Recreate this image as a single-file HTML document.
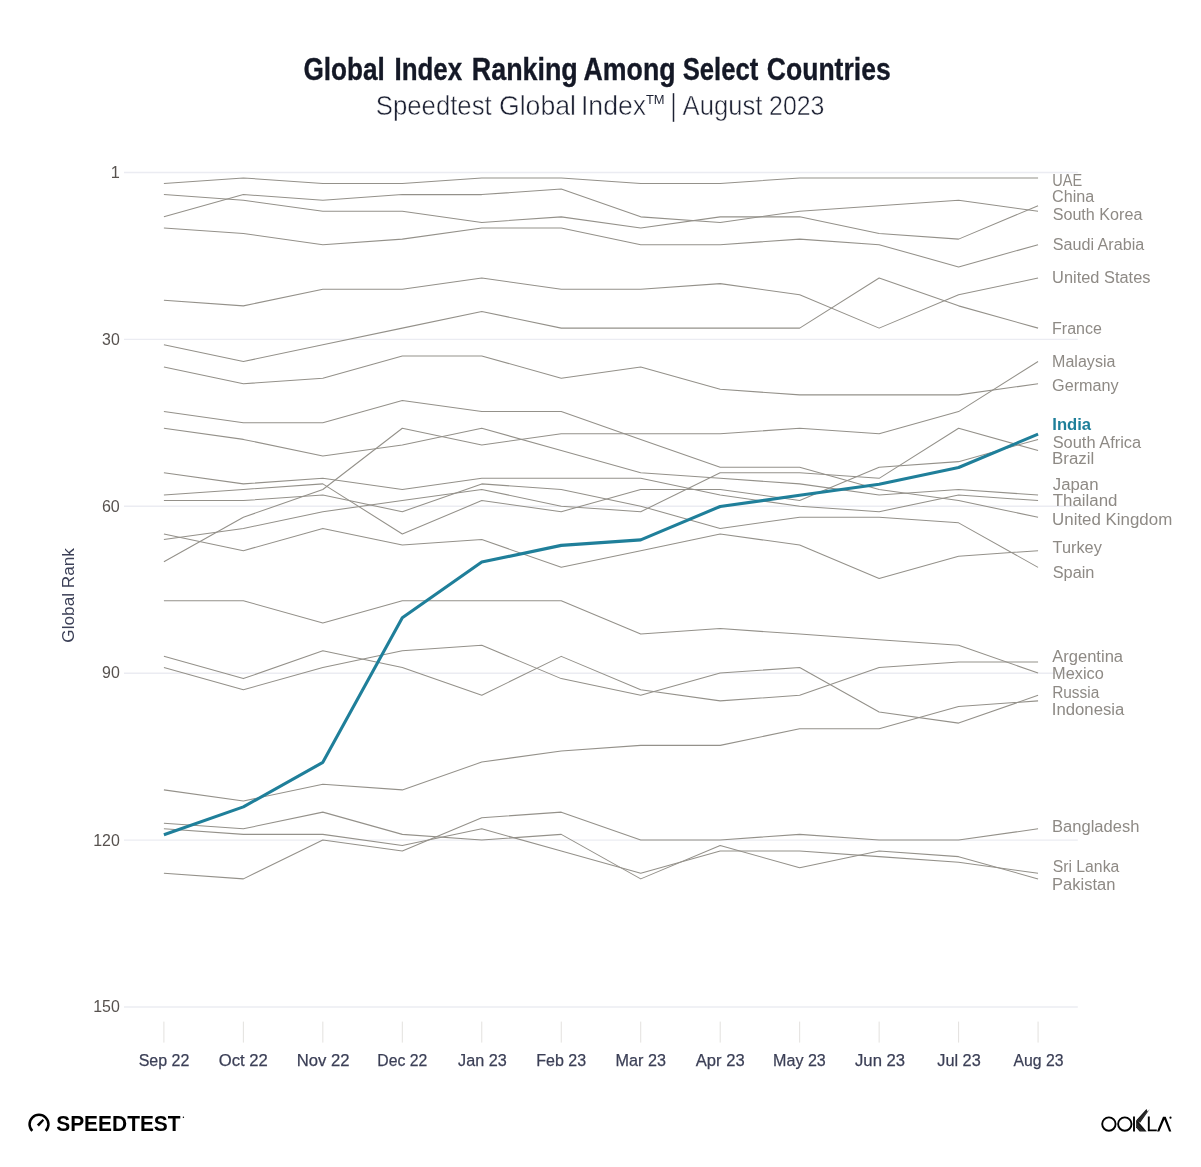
<!DOCTYPE html>
<html lang="en"><head><meta charset="utf-8"><title>Global Index Ranking Among Select Countries</title>
<style>html,body{margin:0;padding:0;background:#fff;}body{width:1201px;height:1167px;overflow:hidden;}svg{display:block;will-change:transform;}text{font-family:"Liberation Sans",sans-serif;}</style></head><body>
<svg width="1201" height="1167" viewBox="0 0 1201 1167">
<rect width="1201" height="1167" fill="#ffffff"/>
<text x="303.43" y="79.5" font-size="32.2" font-weight="bold" fill="#141826" textLength="81.32" lengthAdjust="spacingAndGlyphs" stroke="#141826" stroke-width="0.35">Global</text>
<text x="394.47" y="79.5" font-size="32.2" font-weight="bold" fill="#141826" textLength="67.62" lengthAdjust="spacingAndGlyphs" stroke="#141826" stroke-width="0.35">Index</text>
<text x="471.8" y="79.5" font-size="32.2" font-weight="bold" fill="#141826" textLength="105.99" lengthAdjust="spacingAndGlyphs" stroke="#141826" stroke-width="0.35">Ranking</text>
<text x="583.53" y="79.5" font-size="32.2" font-weight="bold" fill="#141826" textLength="92.05" lengthAdjust="spacingAndGlyphs" stroke="#141826" stroke-width="0.35">Among</text>
<text x="682.66" y="79.5" font-size="32.2" font-weight="bold" fill="#141826" textLength="75.65" lengthAdjust="spacingAndGlyphs" stroke="#141826" stroke-width="0.35">Select</text>
<text x="766.81" y="79.5" font-size="32.2" font-weight="bold" fill="#141826" textLength="123.88" lengthAdjust="spacingAndGlyphs" stroke="#141826" stroke-width="0.35">Countries</text>
<text x="375.83" y="115.0" font-size="28.5" font-weight="normal" fill="#1d2133" textLength="115.86" lengthAdjust="spacingAndGlyphs" stroke="#ffffff" stroke-width="0.5">Speedtest</text>
<text x="498.96" y="115.0" font-size="28.5" font-weight="normal" fill="#1d2133" textLength="77.02" lengthAdjust="spacingAndGlyphs" stroke="#ffffff" stroke-width="0.5">Global</text>
<text x="580.94" y="115.0" font-size="28.5" font-weight="normal" fill="#1d2133" textLength="65.14" lengthAdjust="spacingAndGlyphs" stroke="#ffffff" stroke-width="0.5">Index</text>
<text x="682.55" y="115.0" font-size="28.5" font-weight="normal" fill="#1d2133" textLength="79.84" lengthAdjust="spacingAndGlyphs" stroke="#ffffff" stroke-width="0.5">August</text>
<text x="769.05" y="115.0" font-size="28.5" font-weight="normal" fill="#1d2133" textLength="55.34" lengthAdjust="spacingAndGlyphs" stroke="#ffffff" stroke-width="0.5">2023</text>
<text x="645.91" y="104.0" font-size="12.0" font-weight="normal" fill="#1d2133" textLength="18.65" lengthAdjust="spacingAndGlyphs">TM</text>
<line x1="673.5" x2="673.5" y1="93.2" y2="121.8" stroke="#1d2133" stroke-width="1.5"/>
<g stroke="#ebecf2" stroke-width="1.4">
<line x1="124" x2="1077.8" y1="172.50" y2="172.50"/>
<line x1="124" x2="1077.8" y1="339.40" y2="339.40"/>
<line x1="124" x2="1077.8" y1="506.30" y2="506.30"/>
<line x1="124" x2="1077.8" y1="673.20" y2="673.20"/>
<line x1="124" x2="1077.8" y1="840.10" y2="840.10"/>
<line x1="124" x2="1077.8" y1="1007.00" y2="1007.00"/>
</g>
<text x="110.85" y="177.9" font-size="16.55" font-weight="normal" fill="#57524f" textLength="9.09" lengthAdjust="spacingAndGlyphs">1</text>
<text x="102.09" y="344.8" font-size="16.55" font-weight="normal" fill="#57524f" textLength="17.68" lengthAdjust="spacingAndGlyphs">30</text>
<text x="101.88" y="511.7" font-size="16.55" font-weight="normal" fill="#57524f" textLength="17.9" lengthAdjust="spacingAndGlyphs">60</text>
<text x="102.05" y="678.4" font-size="16.55" font-weight="normal" fill="#57524f" textLength="17.72" lengthAdjust="spacingAndGlyphs">90</text>
<text x="93.19" y="845.8" font-size="16.55" font-weight="normal" fill="#57524f" textLength="26.59" lengthAdjust="spacingAndGlyphs">120</text>
<text x="93.19" y="1011.8" font-size="16.55" font-weight="normal" fill="#57524f" textLength="26.59" lengthAdjust="spacingAndGlyphs">150</text>
<g stroke="#e3e1de" stroke-width="1">
<line x1="163.90" x2="163.90" y1="1021.6" y2="1042.6"/>
<line x1="243.37" x2="243.37" y1="1021.6" y2="1042.6"/>
<line x1="322.84" x2="322.84" y1="1021.6" y2="1042.6"/>
<line x1="402.31" x2="402.31" y1="1021.6" y2="1042.6"/>
<line x1="481.78" x2="481.78" y1="1021.6" y2="1042.6"/>
<line x1="561.25" x2="561.25" y1="1021.6" y2="1042.6"/>
<line x1="640.72" x2="640.72" y1="1021.6" y2="1042.6"/>
<line x1="720.19" x2="720.19" y1="1021.6" y2="1042.6"/>
<line x1="799.66" x2="799.66" y1="1021.6" y2="1042.6"/>
<line x1="879.13" x2="879.13" y1="1021.6" y2="1042.6"/>
<line x1="958.60" x2="958.60" y1="1021.6" y2="1042.6"/>
<line x1="1038.07" x2="1038.07" y1="1021.6" y2="1042.6"/>
</g>
<text x="138.67" y="1066" font-size="16.8" font-weight="normal" fill="#3b3f56" textLength="50.73" lengthAdjust="spacingAndGlyphs" stroke="#3b3f56" stroke-width="0.25">Sep 22</text>
<text x="218.81" y="1066" font-size="16.8" font-weight="normal" fill="#3b3f56" textLength="49.03" lengthAdjust="spacingAndGlyphs" stroke="#3b3f56" stroke-width="0.25">Oct 22</text>
<text x="296.63" y="1066" font-size="16.8" font-weight="normal" fill="#3b3f56" textLength="52.81" lengthAdjust="spacingAndGlyphs" stroke="#3b3f56" stroke-width="0.25">Nov 22</text>
<text x="377.31" y="1066" font-size="16.8" font-weight="normal" fill="#3b3f56" textLength="49.99" lengthAdjust="spacingAndGlyphs" stroke="#3b3f56" stroke-width="0.25">Dec 22</text>
<text x="458.05" y="1066" font-size="16.8" font-weight="normal" fill="#3b3f56" textLength="48.67" lengthAdjust="spacingAndGlyphs" stroke="#3b3f56" stroke-width="0.25">Jan 23</text>
<text x="536.18" y="1066" font-size="16.8" font-weight="normal" fill="#3b3f56" textLength="49.92" lengthAdjust="spacingAndGlyphs" stroke="#3b3f56" stroke-width="0.25">Feb 23</text>
<text x="615.57" y="1066" font-size="16.8" font-weight="normal" fill="#3b3f56" textLength="50.34" lengthAdjust="spacingAndGlyphs" stroke="#3b3f56" stroke-width="0.25">Mar 23</text>
<text x="695.77" y="1066" font-size="16.8" font-weight="normal" fill="#3b3f56" textLength="48.86" lengthAdjust="spacingAndGlyphs" stroke="#3b3f56" stroke-width="0.25">Apr 23</text>
<text x="773.08" y="1066" font-size="16.8" font-weight="normal" fill="#3b3f56" textLength="52.73" lengthAdjust="spacingAndGlyphs" stroke="#3b3f56" stroke-width="0.25">May 23</text>
<text x="855.04" y="1066" font-size="16.8" font-weight="normal" fill="#3b3f56" textLength="50.09" lengthAdjust="spacingAndGlyphs" stroke="#3b3f56" stroke-width="0.25">Jun 23</text>
<text x="937.25" y="1066" font-size="16.8" font-weight="normal" fill="#3b3f56" textLength="43.47" lengthAdjust="spacingAndGlyphs" stroke="#3b3f56" stroke-width="0.25">Jul 23</text>
<text x="1013.47" y="1066" font-size="16.8" font-weight="normal" fill="#3b3f56" textLength="50.02" lengthAdjust="spacingAndGlyphs" stroke="#3b3f56" stroke-width="0.25">Aug 23</text>
<text transform="translate(74.3,641.8) rotate(-90)" x="-0.86" y="0" font-size="17.2" fill="#3b3f56" textLength="94.64" lengthAdjust="spacingAndGlyphs">Global Rank</text>
<g fill="none" stroke="#94918a" stroke-width="1.05" stroke-linejoin="round">
<polyline points="163.90,183.48 243.37,177.91 322.84,183.48 402.31,183.48 481.78,177.91 561.25,177.91 640.72,183.48 720.19,183.48 799.66,177.91 879.13,177.91 958.60,177.91 1038.07,177.91"/>
<polyline points="163.90,216.86 243.37,194.60 322.84,200.17 402.31,194.60 481.78,194.60 561.25,189.04 640.72,216.86 720.19,222.42 799.66,211.29 879.13,205.73 958.60,200.17 1038.07,211.29"/>
<polyline points="163.90,194.60 243.37,200.17 322.84,211.29 402.31,211.29 481.78,222.42 561.25,216.86 640.72,227.98 720.19,216.86 799.66,216.86 879.13,233.55 958.60,239.11 1038.07,205.73"/>
<polyline points="163.90,227.98 243.37,233.55 322.84,244.67 402.31,239.11 481.78,227.98 561.25,227.98 640.72,244.67 720.19,244.67 799.66,239.11 879.13,244.67 958.60,266.93 1038.07,244.67"/>
<polyline points="163.90,300.31 243.37,305.87 322.84,289.18 402.31,289.18 481.78,278.05 561.25,289.18 640.72,289.18 720.19,283.62 799.66,294.74 879.13,328.12 958.60,294.74 1038.07,278.05"/>
<polyline points="163.90,344.81 243.37,361.50 322.84,344.81 402.31,328.12 481.78,311.43 561.25,328.12 640.72,328.12 720.19,328.12 799.66,328.12 879.13,278.05 958.60,305.87 1038.07,328.12"/>
<polyline points="163.90,561.78 243.37,517.27 322.84,489.46 402.31,428.26 481.78,444.95 561.25,433.83 640.72,433.83 720.19,433.83 799.66,428.26 879.13,433.83 958.60,411.57 1038.07,361.50"/>
<polyline points="163.90,367.07 243.37,383.76 322.84,378.19 402.31,355.94 481.78,355.94 561.25,378.19 640.72,367.07 720.19,389.32 799.66,394.88 879.13,394.88 958.60,394.88 1038.07,383.76"/>
<polyline points="163.90,495.02 243.37,489.46 322.84,483.89 402.31,533.96 481.78,500.58 561.25,511.71 640.72,489.46 720.19,489.46 799.66,500.58 879.13,467.20 958.60,461.64 1038.07,439.39"/>
<polyline points="163.90,539.53 243.37,528.40 322.84,511.71 402.31,500.58 481.78,489.46 561.25,506.15 640.72,511.71 720.19,472.77 799.66,472.77 879.13,478.33 958.60,428.26 1038.07,450.51"/>
<polyline points="163.90,428.26 243.37,439.39 322.84,456.08 402.31,444.95 481.78,428.26 561.25,450.51 640.72,472.77 720.19,478.33 799.66,483.89 879.13,495.02 958.60,489.46 1038.07,495.02"/>
<polyline points="163.90,472.77 243.37,483.89 322.84,478.33 402.31,489.46 481.78,478.33 561.25,478.33 640.72,478.33 720.19,495.02 799.66,506.15 879.13,511.71 958.60,495.02 1038.07,500.58"/>
<polyline points="163.90,411.57 243.37,422.70 322.84,422.70 402.31,400.45 481.78,411.57 561.25,411.57 640.72,439.39 720.19,467.20 799.66,467.20 879.13,489.46 958.60,500.58 1038.07,517.27"/>
<polyline points="163.90,533.96 243.37,550.65 322.84,528.40 402.31,545.09 481.78,539.53 561.25,567.34 640.72,550.65 720.19,533.96 799.66,545.09 879.13,578.47 958.60,556.22 1038.07,550.65"/>
<polyline points="163.90,500.58 243.37,500.58 322.84,495.02 402.31,511.71 481.78,483.89 561.25,489.46 640.72,506.15 720.19,528.40 799.66,517.27 879.13,517.27 958.60,522.84 1038.07,567.34"/>
<polyline points="163.90,656.36 243.37,678.61 322.84,650.79 402.31,667.48 481.78,695.30 561.25,656.36 640.72,689.74 720.19,700.86 799.66,695.30 879.13,667.48 958.60,661.92 1038.07,661.92"/>
<polyline points="163.90,600.72 243.37,600.72 322.84,622.98 402.31,600.72 481.78,600.72 561.25,600.72 640.72,634.10 720.19,628.54 799.66,634.10 879.13,639.67 958.60,645.23 1038.07,673.05"/>
<polyline points="163.90,667.48 243.37,689.74 322.84,667.48 402.31,650.79 481.78,645.23 561.25,678.61 640.72,695.30 720.19,673.05 799.66,667.48 879.13,711.99 958.60,723.12 1038.07,695.30"/>
<polyline points="163.90,789.88 243.37,801.00 322.84,784.31 402.31,789.88 481.78,762.06 561.25,750.93 640.72,745.37 720.19,745.37 799.66,728.68 879.13,728.68 958.60,706.43 1038.07,700.86"/>
<polyline points="163.90,873.33 243.37,878.89 322.84,839.95 402.31,851.07 481.78,817.69 561.25,812.13 640.72,839.95 720.19,839.95 799.66,834.38 879.13,839.95 958.60,839.95 1038.07,828.82"/>
<polyline points="163.90,828.82 243.37,834.38 322.84,834.38 402.31,845.51 481.78,828.82 561.25,851.07 640.72,873.33 720.19,851.07 799.66,851.07 879.13,856.64 958.60,862.20 1038.07,873.33"/>
<polyline points="163.90,823.26 243.37,828.82 322.84,812.13 402.31,834.38 481.78,839.95 561.25,834.38 640.72,878.89 720.19,845.51 799.66,867.76 879.13,851.07 958.60,856.64 1038.07,878.89"/>
</g>
<polyline fill="none" stroke="#1f7f9a" stroke-width="3.1" stroke-linejoin="round" points="163.90,834.68 243.37,806.87 322.84,762.36 402.31,617.71 481.78,562.08 561.25,545.39 640.72,539.83 720.19,506.45 799.66,495.32 879.13,484.19 958.60,467.50 1038.07,434.13"/>
<text x="1052.28" y="185.6" font-size="15.8" font-weight="normal" fill="#8e8a85" textLength="29.84" lengthAdjust="spacingAndGlyphs">UAE</text>
<text x="1052.08" y="202.4" font-size="15.8" font-weight="normal" fill="#8e8a85" textLength="42.22" lengthAdjust="spacingAndGlyphs">China</text>
<text x="1052.67" y="219.6" font-size="15.8" font-weight="normal" fill="#8e8a85" textLength="89.73" lengthAdjust="spacingAndGlyphs">South Korea</text>
<text x="1052.67" y="249.7" font-size="15.8" font-weight="normal" fill="#8e8a85" textLength="91.63" lengthAdjust="spacingAndGlyphs">Saudi Arabia</text>
<text x="1052.14" y="283.3" font-size="15.8" font-weight="normal" fill="#8e8a85" textLength="98.36" lengthAdjust="spacingAndGlyphs">United States</text>
<text x="1052.09" y="334.0" font-size="15.8" font-weight="normal" fill="#8e8a85" textLength="49.82" lengthAdjust="spacingAndGlyphs">France</text>
<text x="1052.08" y="366.5" font-size="15.8" font-weight="normal" fill="#8e8a85" textLength="63.32" lengthAdjust="spacingAndGlyphs">Malaysia</text>
<text x="1052.08" y="391.4" font-size="15.8" font-weight="normal" fill="#8e8a85" textLength="66.65" lengthAdjust="spacingAndGlyphs">Germany</text>
<text x="1052.66" y="447.5" font-size="15.8" font-weight="normal" fill="#8e8a85" textLength="88.54" lengthAdjust="spacingAndGlyphs">South Africa</text>
<text x="1052.02" y="463.7" font-size="15.8" font-weight="normal" fill="#8e8a85" textLength="42.21" lengthAdjust="spacingAndGlyphs">Brazil</text>
<text x="1052.84" y="489.6" font-size="15.8" font-weight="normal" fill="#8e8a85" textLength="45.65" lengthAdjust="spacingAndGlyphs">Japan</text>
<text x="1052.72" y="505.5" font-size="15.8" font-weight="normal" fill="#8e8a85" textLength="64.77" lengthAdjust="spacingAndGlyphs">Thailand</text>
<text x="1052.1" y="524.5" font-size="15.8" font-weight="normal" fill="#8e8a85" textLength="120.12" lengthAdjust="spacingAndGlyphs">United Kingdom</text>
<text x="1052.54" y="552.9" font-size="15.8" font-weight="normal" fill="#8e8a85" textLength="49.29" lengthAdjust="spacingAndGlyphs">Turkey</text>
<text x="1052.66" y="577.8" font-size="15.8" font-weight="normal" fill="#8e8a85" textLength="41.8" lengthAdjust="spacingAndGlyphs">Spain</text>
<text x="1052.17" y="661.9" font-size="15.8" font-weight="normal" fill="#8e8a85" textLength="70.93" lengthAdjust="spacingAndGlyphs">Argentina</text>
<text x="1052.06" y="678.7" font-size="15.8" font-weight="normal" fill="#8e8a85" textLength="51.73" lengthAdjust="spacingAndGlyphs">Mexico</text>
<text x="1052.13" y="697.8" font-size="15.8" font-weight="normal" fill="#8e8a85" textLength="47.17" lengthAdjust="spacingAndGlyphs">Russia</text>
<text x="1051.86" y="714.9" font-size="15.8" font-weight="normal" fill="#8e8a85" textLength="72.44" lengthAdjust="spacingAndGlyphs">Indonesia</text>
<text x="1052.04" y="831.8" font-size="15.8" font-weight="normal" fill="#8e8a85" textLength="87.43" lengthAdjust="spacingAndGlyphs">Bangladesh</text>
<text x="1052.68" y="872.4" font-size="15.8" font-weight="normal" fill="#8e8a85" textLength="66.62" lengthAdjust="spacingAndGlyphs">Sri Lanka</text>
<text x="1052.05" y="889.5" font-size="15.8" font-weight="normal" fill="#8e8a85" textLength="63.33" lengthAdjust="spacingAndGlyphs">Pakistan</text>
<text x="1052.29" y="429.6" font-size="15.8" font-weight="bold" fill="#1f7f9a" textLength="38.81" lengthAdjust="spacingAndGlyphs">India</text>
<g id="speedtest-logo">
<path d="M32.32 1130.88 A9.45 9.45 0 1 1 45.68 1130.88" fill="none" stroke="#000" stroke-width="2.5"/>
<polygon points="36.9,1124.4 38.9,1126.4 44.1,1120.4 42.7,1119.0" fill="#000"/>
<text x="56.2" y="1131" font-size="21.8" font-weight="bold" fill="#000" textLength="124.43" lengthAdjust="spacingAndGlyphs">SPEEDTEST</text>
<circle cx="183.4" cy="1117.2" r="0.7" fill="#000"/>
</g>
<g id="ookla-logo" fill="none" stroke="#000">
<circle cx="1108.9" cy="1124.05" r="6.7" stroke-width="1.9"/>
<circle cx="1124.8" cy="1124.05" r="6.7" stroke-width="1.9"/>
<line x1="1134.0" y1="1116.6" x2="1134.0" y2="1131.4" stroke-width="1.9"/>
<polygon points="1136.1,1120.4 1146.5,1109.1 1147.6,1111.4 1149.7,1109.3 1140.1,1122.8" fill="#111" stroke="none"/>
<g stroke="#fff" stroke-width="0.3" opacity="0.45"><line x1="1137.1" y1="1121.0" x2="1147.0" y2="1110.2"/><line x1="1138.1" y1="1121.6" x2="1147.9" y2="1110.9"/><line x1="1139.1" y1="1122.2" x2="1148.8" y2="1110.3"/></g>
<polygon points="1136.1,1120.6 1138.0,1121.2 1146.6,1131.4 1139.6,1131.4 1136.1,1127.6" fill="#111" stroke="none"/>
<g stroke="#fff" stroke-width="0.3" opacity="0.45"><line x1="1136.1" y1="1122.4" x2="1143.9" y2="1131.4"/><line x1="1136.1" y1="1124.2" x2="1142.4" y2="1131.4"/><line x1="1136.1" y1="1126.0" x2="1140.9" y2="1131.4"/></g>
<polyline points="1148.8,1116.6 1148.8,1130.35 1156.8,1130.35" stroke-width="1.9"/>
<polygon points="1157.0,1131.4 1163.0,1116.7 1165.7,1116.7 1171.3,1131.4 1169.1,1131.4 1164.35,1119.6 1159.3,1131.4" fill="#000" stroke="none"/>
<circle cx="1170.5" cy="1117.7" r="1.1" fill="#000" stroke="none"/>
</g>
</svg></body></html>
